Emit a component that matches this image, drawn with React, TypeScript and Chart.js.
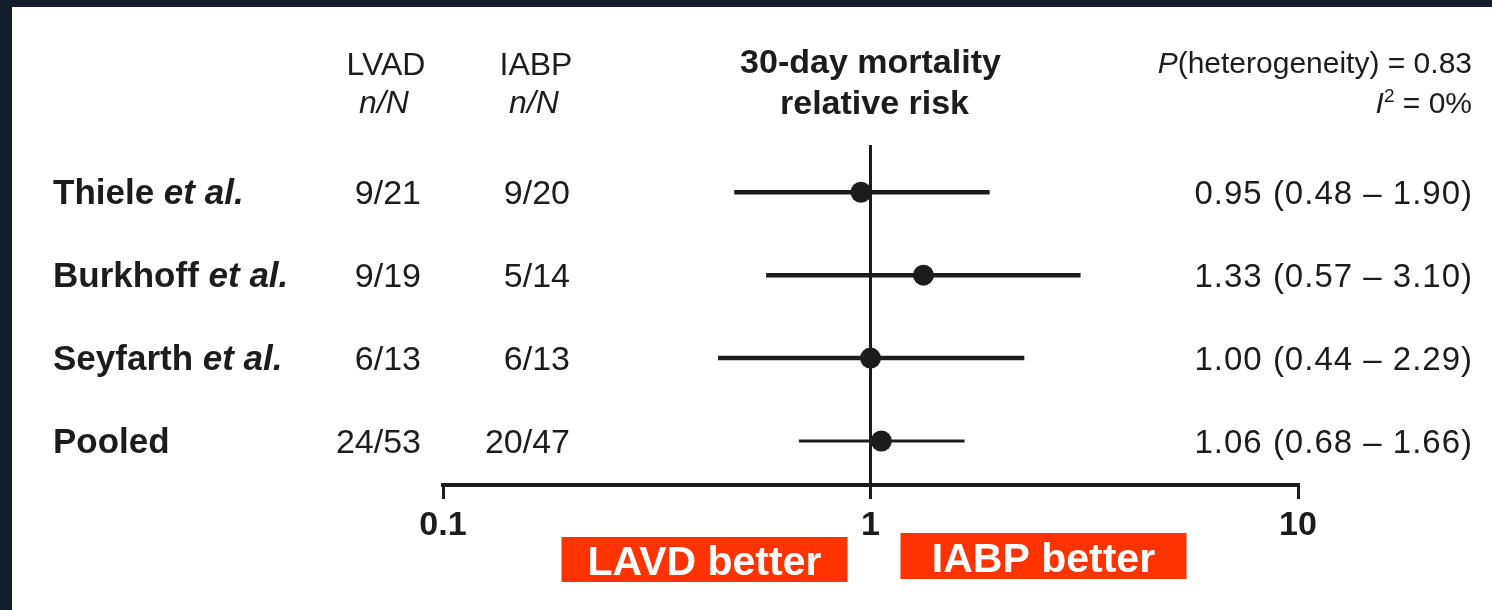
import React, { useEffect, useRef } from 'react';
import { Chart, registerables } from 'chart.js';

Chart.register(...registerables);

// Study rows (top to bottom)
const studyNames = ['Thiele', 'Burkhoff', 'Seyfarth', 'Pooled'];
const studyEtAl = [true, true, true, false];
const lvadEvents = ['9/21', '9/19', '6/13', '24/53'];
const iabpEvents = ['9/20', '5/14', '6/13', '20/47'];

// 30-day mortality relative risk with 95% CI
const relativeRisk = [0.95, 1.33, 1.0, 1.06];
const ciLower = [0.48, 0.57, 0.44, 0.68];
const ciUpper = [1.9, 3.1, 2.29, 1.66];

// Axis
const xTickValues = [0.1, 1, 10];

// Header / footer text
const lvadHeader = 'LVAD';
const iabpHeader = 'IABP';
const countHeader = 'n/N';
const effectTitle = ['30-day mortality', 'relative risk'];
const heterogeneityP = '0.83';
const iSquared = '0%';
const favoursLeft = 'LAVD better';
const favoursRight = 'IABP better';

const FONT = "'Liberation Sans', Arial, Helvetica, sans-serif";
const INK = '#1c1c1c';
const RED = '#ff3300';
const FRAME = '#141f2e';

type Run = { text: string; font: string; dy?: number };

function drawRuns(
  ctx: CanvasRenderingContext2D,
  runs: Run[],
  x: number,
  y: number,
  align: 'left' | 'right'
) {
  ctx.textAlign = 'left';
  let total = 0;
  const widths = runs.map((r) => {
    ctx.font = r.font;
    const w = ctx.measureText(r.text).width;
    total += w;
    return w;
  });
  let cx = align === 'right' ? x - total : x;
  runs.forEach((r, i) => {
    ctx.font = r.font;
    ctx.fillText(r.text, cx, y - (r.dy || 0));
    cx += widths[i];
  });
}

const textLayer = {
  id: 'forestText',
  afterDraw(chart: any) {
    const ctx: CanvasRenderingContext2D = chart.ctx;
    const xs = chart.scales.x;
    const ys = chart.scales.y;
    const x1 = xs.getPixelForValue(1);

    ctx.save();
    ctx.fillStyle = INK;
    ctx.textBaseline = 'alphabetic';

    // column headers
    ctx.textAlign = 'center';
    ctx.font = `32px ${FONT}`;
    ctx.fillText(lvadHeader, 386, 75);
    ctx.fillText(iabpHeader, 536, 75);
    ctx.font = `italic 32px ${FONT}`;
    ctx.fillText(countHeader, 384, 113);
    ctx.fillText(countHeader, 534, 113);
    ctx.font = `bold 34px ${FONT}`;
    ctx.fillText(effectTitle[0], x1, 73);
    ctx.fillText(effectTitle[1], x1 + 4, 114);

    // heterogeneity statistics
    drawRuns(
      ctx,
      [
        { text: 'P', font: `italic 30px ${FONT}` },
        { text: `(heterogeneity) = ${heterogeneityP}`, font: `30px ${FONT}` },
      ],
      1472,
      73,
      'right'
    );
    drawRuns(
      ctx,
      [
        { text: 'I', font: `italic 30px ${FONT}` },
        { text: '2', font: `19px ${FONT}`, dy: 11 },
        { text: ` = ${iSquared}`, font: `30px ${FONT}` },
      ],
      1472,
      113,
      'right'
    );

    // study rows
    studyNames.forEach((name, i) => {
      const yb = ys.getPixelForValue(i) + 12;
      const runs: Run[] = [{ text: name, font: `bold 35px ${FONT}` }];
      if (studyEtAl[i]) runs.push({ text: ' et al.', font: `italic bold 35px ${FONT}` });
      drawRuns(ctx, runs, 53, yb, 'left');

      ctx.font = `34px ${FONT}`;
      ctx.textAlign = 'right';
      ctx.fillText(lvadEvents[i], 421, yb);
      ctx.fillText(iabpEvents[i], 570, yb);

      const label = `${relativeRisk[i].toFixed(2)} (${ciLower[i].toFixed(2)} – ${ciUpper[i].toFixed(2)})`;
      ctx.font = `33px ${FONT}`;
      (ctx as any).letterSpacing = '1px';
      ctx.fillText(label, 1473, yb);
      (ctx as any).letterSpacing = '0px';
    });

    // favours boxes
    const boxW = 286;
    ctx.fillStyle = RED;
    ctx.fillRect(x1 - 309, 537, boxW, 45);
    ctx.fillRect(x1 + 30, 533, boxW, 46);
    ctx.fillStyle = '#ffffff';
    ctx.font = `bold 41px ${FONT}`;
    ctx.textAlign = 'center';
    ctx.fillText(favoursLeft, x1 - 309 + boxW / 2, 575);
    ctx.fillText(favoursRight, x1 + 30 + boxW / 2, 572);

    ctx.restore();
  },
};

export default function App() {
  const canvasRef = useRef<HTMLCanvasElement>(null);

  useEffect(() => {
    const canvas = canvasRef.current;
    if (!canvas) return;

    const pointData = relativeRisk.map((v, i) => ({ x: v, y: i }));
    const ciDatasets = relativeRisk.map((_, i) => ({
      type: 'line' as const,
      label: `${studyNames[i]} CI`,
      data: [
        { x: ciLower[i], y: i },
        { x: ciUpper[i], y: i },
      ],
      borderColor: INK,
      borderWidth: i === relativeRisk.length - 1 ? 3 : 4.5,
      pointRadius: 0,
      showLine: true,
      fill: false,
      order: 1,
    }));

    const chart = new Chart(canvas, {
      type: 'scatter',
      data: {
        datasets: [
          {
            type: 'scatter',
            label: 'Relative risk',
            data: pointData,
            pointRadius: 10.5,
            pointHoverRadius: 10.5,
            backgroundColor: INK,
            borderWidth: 0,
            order: 0,
          } as any,
          ...(ciDatasets as any[]),
        ],
      },
      options: {
        responsive: false,
        animation: false,
        devicePixelRatio: 1,
        events: [],
        layout: { padding: { left: 443, right: 194, top: 145, bottom: 0 } },
        plugins: {
          legend: { display: false },
          tooltip: { enabled: false },
        },
        scales: {
          x: {
            type: 'logarithmic',
            min: 0.1,
            max: 10,
            afterBuildTicks: (axis: any) => {
              axis.ticks = xTickValues.map((v) => ({ value: v }));
            },
            afterFit: (axis: any) => {
              axis.height = 125;
            },
            grid: {
              drawOnChartArea: true,
              drawTicks: true,
              tickLength: 14,
              tickWidth: 3,
              tickColor: INK,
              lineWidth: 3,
              color: (c: any) => (c.tick && c.tick.value === 1 ? INK : 'rgba(0,0,0,0)'),
            },
            border: { display: true, color: INK, width: 4 },
            ticks: {
              autoSkip: false,
              maxRotation: 0,
              minRotation: 0,
              padding: 6,
              color: INK,
              font: { family: FONT, size: 34, weight: 'bold' },
              callback: (v: any) => String(v),
            },
          },
          y: {
            type: 'linear',
            min: -0.57,
            max: 3.53,
            reverse: true,
            display: false,
          },
        },
      } as any,
      plugins: [textLayer],
    });

    return () => chart.destroy();
  }, []);

  return (
    <div
      style={{
        position: 'fixed',
        left: 0,
        top: 0,
        width: 1492,
        height: 610,
        background: FRAME,
        overflow: 'hidden',
      }}
    >
      <div
        style={{
          position: 'absolute',
          left: 12,
          top: 7,
          right: 0,
          bottom: 0,
          background: '#ffffff',
        }}
      />
      <canvas
        ref={canvasRef}
        width={1492}
        height={610}
        style={{ position: 'absolute', left: 0, top: 0, width: 1492, height: 610 }}
      />
    </div>
  );
}
